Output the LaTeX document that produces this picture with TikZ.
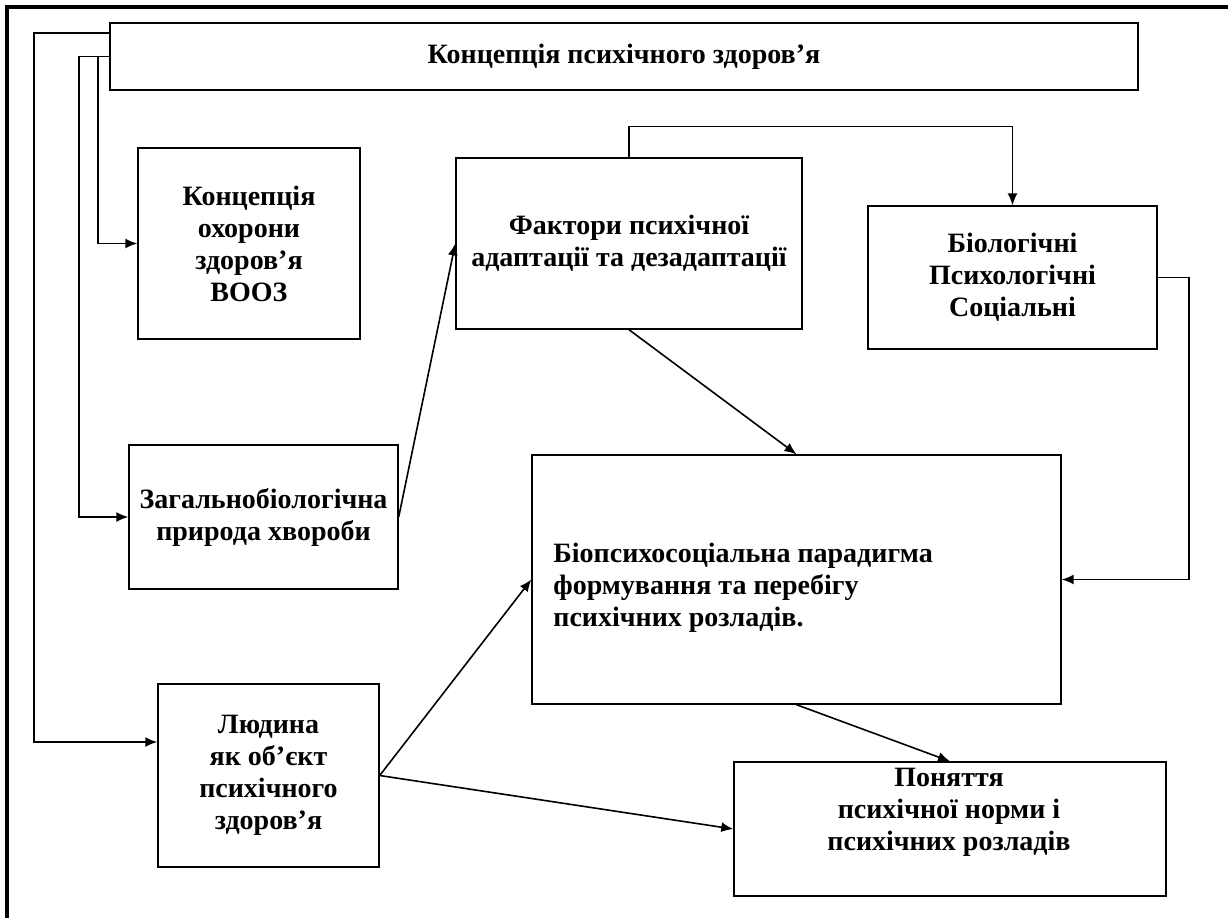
\documentclass[tikz,border=0pt]{standalone}
\usepackage{fontspec}
\setmainfont{Liberation Serif}
\usetikzlibrary{positioning, calc, arrows.meta}

\begin{document}
\begin{tikzpicture}[x=0.5pt, y=-0.5pt]
  \tikzstyle{block}=[draw, line width=0.7pt, inner sep=0pt, align=center, font=\fontsize{14}{16}\selectfont\bfseries]
  \tikzstyle{caption}=[inner sep=0pt, font=\fontsize{14}{16}\selectfont\bfseries]
  \tikzstyle{link}=[line width=0.8pt, -{Latex[length=6pt, width=5pt]}]
  \useasboundingbox (0,0) rectangle (1228,918);

  % page frame
  \draw[line width=1.6pt] (1228,7) -- (7,7) -- (7,918);

  % boxes
  \node (concept) at (624,56.5) [block, minimum width=514pt, minimum height=33.5pt] {Концепція психічного здоров’я};
  \node (vooz) at (249,243.5) [block, minimum width=111pt, minimum height=95.5pt] {Концепція\\ охорони\\ здоров’я\\ ВООЗ};
  \node (factors) at (629,243.5) [block, minimum width=173pt, minimum height=85.5pt] {Фактори психічної\\ адаптації та дезадаптації};
  \node (bio) at (1012.5,277.5) [block, minimum width=144.5pt, minimum height=71.5pt] {Біологічні\\ Психологічні\\ Соціальні};
  \node (general) at (263.5,517) [block, minimum width=134.5pt, minimum height=72pt] {Загальнобіологічна\\ природа хвороби};
  \node (paradigm) at (796.5,579.5) [block, minimum width=264.5pt, minimum height=124.5pt] {};
  \node (paradigmtext) at (553,588) [caption, anchor=west, align=left] {Біопсихосоціальна парадигма\\ формування та перебігу\\ психічних розладів.};
  \node (human) at (268.5,775.5) [block, minimum width=110.5pt, minimum height=91.5pt] {Людина\\ як об’єкт\\ психічного\\ здоров’я};
  \node (notion) at (950,829) [block, minimum width=216pt, minimum height=67pt] {};
  \node (notiontext) at (949,812) [caption, align=center] {Поняття\\ психічної норми і\\ психічних розладів};

  % left bus
  \coordinate (busA) at (34,33);
  \coordinate (busB) at (79,56.5);
  \coordinate (busC) at (98,56.5);
  \draw[link] ([yshift=11.75pt]concept.west) -- (busA) |- ([yshift=16.75pt]human.west);
  \draw[link] (concept.west) -- (busB) |- (general.west);
  \draw[link] (busC) |- (vooz.west);

  % connections
  \draw[link] (general.east) -- (factors.west);
  \draw[link] (factors.south) -- (paradigm.north);
  \draw[link] (factors.north) -- ++(0,-31) -| (bio.north);
  \draw[link] (bio.east) -- ++(31,0) |- (paradigm.east);
  \draw[link] (human.east) -- (paradigm.west);
  \draw[link] (human.east) -- (notion.west);
  \draw[link] (paradigm.south) -- (notion.north);
\end{tikzpicture}
\end{document}
